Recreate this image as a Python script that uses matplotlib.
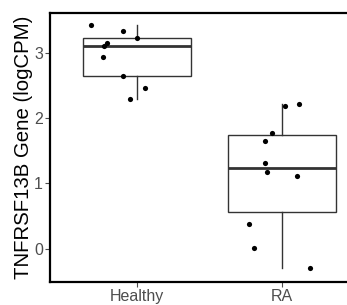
import matplotlib
matplotlib.use("Agg")
import matplotlib.pyplot as plt
from matplotlib import font_manager

# groups and per-sample values
groups = ["Healthy", "RA"]
healthy_vals = [3.43, 3.34, 3.23, 3.15, 3.11, 2.93, 2.64, 2.46, 2.29]
healthy_x = [0.684, 0.907, 0.997, 0.793, 0.772, 0.769, 0.907, 1.055, 0.952]
ra_vals = [2.185, 2.216, 1.767, 1.654, 1.308, 1.17, 1.109, 0.378, 0.015, -0.30]
ra_x = [2.024, 2.118, 1.929, 1.882, 1.882, 1.896, 2.104, 1.775, 1.811, 2.192]

# narrow font for ticks if installed
names = [f.name for f in font_manager.fontManager.ttflist]
narrow = "Liberation Sans Narrow" if "Liberation Sans Narrow" in names else "Liberation Sans"
plt.rcParams["font.family"] = ["Liberation Sans", "DejaVu Sans"]

fig = plt.figure(figsize=(3.47, 3.05), dpi=100)
# panel runs past the right edge (cropped like the original)
ax = fig.add_axes([0.144, 0.0764, 0.919, 0.881])

ax.boxplot([healthy_vals, ra_vals], positions=[1, 2], widths=0.75,
           whis=1.5, showcaps=False, showfliers=False, patch_artist=True,
           boxprops=dict(facecolor="white", edgecolor="#333333", linewidth=1.0),
           whiskerprops=dict(color="#333333", linewidth=1.0),
           medianprops=dict(color="#333333", linewidth=2.0))

ax.scatter(healthy_x, healthy_vals, s=14, color="black", zorder=3, linewidths=0)
ax.scatter(ra_x, ra_vals, s=14, color="black", zorder=3, linewidths=0)

ax.set_xlim(0.4, 2.6)
ax.set_ylim(-0.505, 3.61)
ax.set_xticks([1, 2])
ax.set_xticklabels(groups, fontfamily=narrow, fontsize=11.5, color="#4D4D4D")
ax.set_yticks([0, 1, 2, 3])
ax.set_yticklabels(["0", "1", "2", "3"], fontfamily=narrow, fontsize=11.5, color="#4D4D4D")
ax.tick_params(axis="both", length=3.5, width=0.8, color="#4D4D4D", pad=1.5)
ax.set_ylabel("TNFRSF13B Gene (logCPM)", fontsize=14.7, color="black", labelpad=1)

for side in ["left", "bottom", "top", "right"]:
    ax.spines[side].set_color("black")
    ax.spines[side].set_linewidth(1.6)

fig.savefig("out.png", dpi=100)
